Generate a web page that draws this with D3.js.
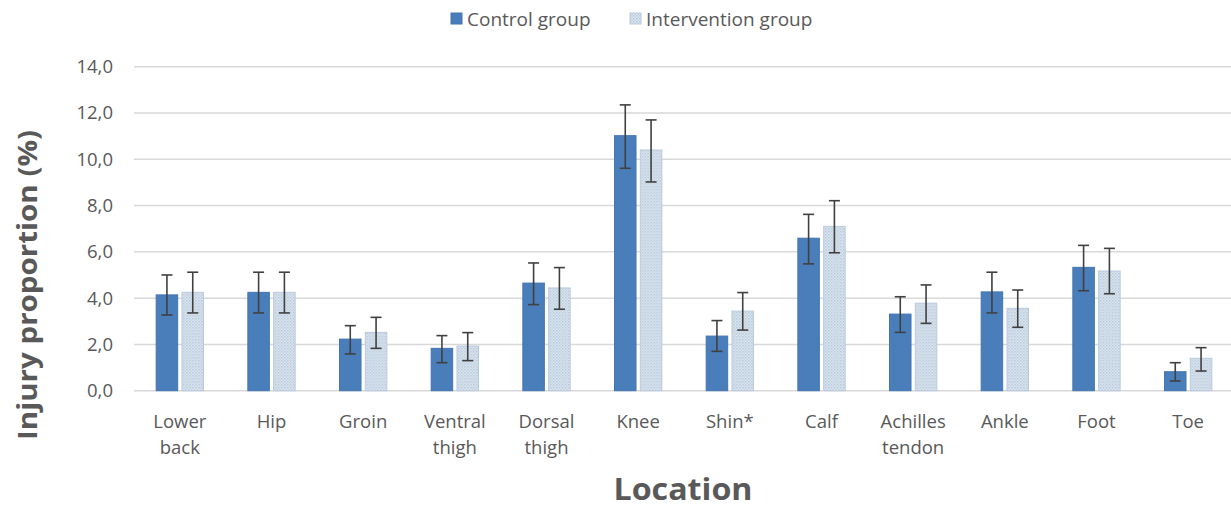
<!DOCTYPE html>
<html>
<head>
<meta charset="utf-8">
<script src="https://cdn.jsdelivr.net/npm/d3@7"></script>
<style>
html,body{margin:0;padding:0;background:#fff;}
svg{display:block;font-family:"Open Sans", Lato, sans-serif;}
</style>
</head>
<body>
<svg id="chart" width="1231" height="510"></svg>
<script>
const categories = ["Lower back","Hip","Groin","Ventral thigh","Dorsal thigh","Knee","Shin*","Calf","Achilles tendon","Ankle","Foot","Toe"];
const categoryLines = [["Lower","back"],["Hip"],["Groin"],["Ventral","thigh"],["Dorsal","thigh"],["Knee"],["Shin*"],["Calf"],["Achilles","tendon"],["Ankle"],["Foot"],["Toe"]];
const seriesNames = ["Control group","Intervention group"];
const controlValues = [4.14, 4.25, 2.23, 1.83, 4.65, 11.02, 2.36, 6.59, 3.31, 4.27, 5.33, 0.82];
const controlLow    = [3.27, 3.36, 1.59, 1.21, 3.72, 9.61, 1.70, 5.48, 2.52, 3.36, 4.32, 0.42];
const controlHigh   = [5.00, 5.12, 2.81, 2.38, 5.52, 12.35, 3.03, 7.62, 4.06, 5.12, 6.28, 1.21];
const interValues   = [4.25, 4.25, 2.52, 1.93, 4.44, 10.40, 3.44, 7.10, 3.78, 3.56, 5.17, 1.40];
const interLow      = [3.36, 3.36, 1.83, 1.30, 3.52, 9.02, 2.62, 5.96, 2.91, 2.74, 4.19, 0.85];
const interHigh     = [5.12, 5.12, 3.17, 2.51, 5.32, 11.70, 4.24, 8.21, 4.57, 4.35, 6.15, 1.86];
const yTicks = [0, 2, 4, 6, 8, 10, 12, 14];

const svg = d3.select("#chart");
const plotLeft = 134, plotRight = 1234, plotTop = 66.7, plotBottom = 390.7;
const textColor = "#595959";

const defs = svg.append("defs");
const pat = defs.append("pattern").attr("id","dots").attr("patternUnits","userSpaceOnUse")
  .attr("width",3).attr("height",3);
pat.append("rect").attr("width",3).attr("height",3).attr("fill","#dfe8f1");
pat.append("rect").attr("x",0).attr("y",0).attr("width",1.5).attr("height",1.5).attr("fill","#b3c6d9");
pat.append("rect").attr("x",1.5).attr("y",1.5).attr("width",1.5).attr("height",1.5).attr("fill","#c2d2e2");

const x0 = d3.scaleBand().domain(categories).range([plotLeft, plotRight]).paddingInner(0.484).paddingOuter(0.242);
const x1 = d3.scaleBand().domain(seriesNames).range([0, x0.bandwidth()]).paddingInner(0.167).paddingOuter(0);
const y = d3.scaleLinear().domain([0, 14]).range([plotBottom, plotTop]);

// gridlines
svg.append("g").selectAll("line").data(yTicks).join("line")
  .attr("x1", plotLeft).attr("x2", 1231)
  .attr("y1", d => y(d)).attr("y2", d => y(d))
  .attr("stroke", "#d9d9d9").attr("stroke-width", 1.5);

// y tick labels
const yAxis = d3.axisLeft(y).tickValues(yTicks).tickSize(0).tickPadding(0)
  .tickFormat(d => d3.format(".1f")(d).replace(".", ","));
const ya = svg.append("g").attr("transform", `translate(113,0)`).call(yAxis);
ya.select(".domain").remove();
ya.selectAll("text").attr("font-size", "18.5px").attr("fill", textColor).attr("font-family","'Open Sans', sans-serif");

const data = categories.map((c, i) => ({
  cat: c,
  vals: [
    {s: seriesNames[0], v: controlValues[i], lo: controlLow[i], hi: controlHigh[i]},
    {s: seriesNames[1], v: interValues[i], lo: interLow[i], hi: interHigh[i]}
  ]
}));

const groups = svg.append("g").selectAll("g").data(data).join("g")
  .attr("transform", d => `translate(${x0(d.cat)},0)`);

groups.selectAll("rect").data(d => d.vals).join("rect")
  .attr("x", d => x1(d.s)).attr("width", x1.bandwidth())
  .attr("y", d => y(d.v)).attr("height", d => y(0) - y(d.v))
  .attr("fill", d => d.s === seriesNames[0] ? "#4a7ebb" : "url(#dots)")
  .attr("stroke", d => d.s === seriesNames[0] ? "#4275b3" : "#b9cade")
  .attr("stroke-width", 1);

// error bars
const eb = groups.selectAll("g.err").data(d => d.vals).join("g").attr("class","err");
const capW = 5.5;
eb.append("line")
  .attr("x1", d => x1(d.s) + x1.bandwidth()/2).attr("x2", d => x1(d.s) + x1.bandwidth()/2)
  .attr("y1", d => y(d.lo)).attr("y2", d => y(d.hi));
eb.append("line")
  .attr("x1", d => x1(d.s) + x1.bandwidth()/2 - capW).attr("x2", d => x1(d.s) + x1.bandwidth()/2 + capW)
  .attr("y1", d => y(d.hi)).attr("y2", d => y(d.hi));
eb.append("line")
  .attr("x1", d => x1(d.s) + x1.bandwidth()/2 - capW).attr("x2", d => x1(d.s) + x1.bandwidth()/2 + capW)
  .attr("y1", d => y(d.lo)).attr("y2", d => y(d.lo));
eb.selectAll("line").attr("stroke", "#404040").attr("stroke-width", 1.6);

// x category labels
const xl = svg.append("g").selectAll("text").data(categories).join("text")
  .attr("x", d => x0(d) + x0.bandwidth()/2)
  .attr("y", 428)
  .attr("text-anchor", "middle")
  .attr("font-size", "18.5px").attr("fill", textColor);
xl.each(function(d, i) {
  const t = d3.select(this);
  categoryLines[i].forEach((ln, j) => {
    t.append("tspan").attr("x", x0(d) + x0.bandwidth()/2).attr("dy", j === 0 ? 0 : 25.5).text(ln);
  });
});

// axis titles
svg.append("text").attr("x", 683).attr("y", 500).attr("text-anchor","middle")
  .attr("font-size","30px").attr("font-weight","bold").attr("fill",textColor)
  .attr("textLength", 139).attr("lengthAdjust","spacingAndGlyphs").text("Location");
svg.append("text").attr("transform","translate(37,285) rotate(-90)").attr("text-anchor","middle")
  .attr("font-size","26px").attr("font-weight","bold").attr("fill",textColor)
  .attr("textLength", 310).attr("lengthAdjust","spacingAndGlyphs").text("Injury proportion (%)");

// legend
const legend = svg.append("g");
const legendItems = [
  {name: seriesNames[0], x: 451, fill: "#4a7ebb", stroke: "#4275b3"},
  {name: seriesNames[1], x: 630, fill: "url(#dots)", stroke: "#b9cade"}
];
legendItems.forEach(it => {
  legend.append("rect").attr("x", it.x).attr("y", 13).attr("width", 11).attr("height", 11)
    .attr("fill", it.fill).attr("stroke", it.stroke);
  legend.append("text").attr("x", it.x + 16).attr("y", 25.5).attr("font-size","19px")
    .attr("fill",textColor).text(it.name);
});
</script>
</body>
</html>
